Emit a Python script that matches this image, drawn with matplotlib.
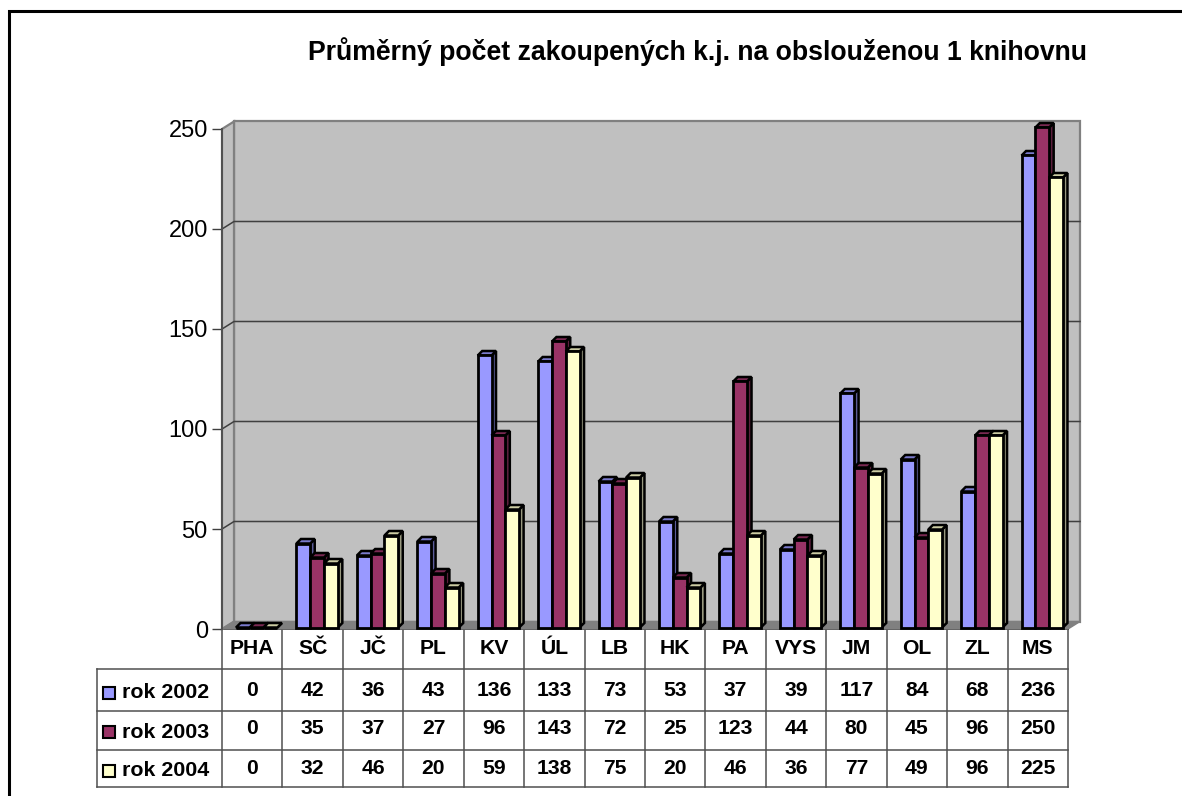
import matplotlib
matplotlib.use("Agg")
import matplotlib.pyplot as plt
from matplotlib.patches import Polygon, Rectangle

plt.rcParams['font.family'] = ['Liberation Sans', 'DejaVu Sans']

regions = ["PHA", "SČ", "JČ", "PL", "KV", "ÚL", "LB", "HK", "PA", "VYS", "JM", "OL", "ZL", "MS"]
rok_2002 = [0, 42, 36, 43, 136, 133, 73, 53, 37, 39, 117, 84, 68, 236]
rok_2003 = [0, 35, 37, 27, 96, 143, 72, 25, 123, 44, 80, 45, 96, 250]
rok_2004 = [0, 32, 46, 20, 59, 138, 75, 20, 46, 36, 77, 49, 96, 225]
series_names = ["rok 2002", "rok 2003", "rok 2004"]
y_ticks = [0, 50, 100, 150, 200, 250]
title = "Průměrný počet zakoupených k.j. na obslouženou 1 knihovnu"

W, H = 1182, 796
L, R, TOP, BOT = 222, 1068, 129, 629
colors = ["#9999FF", "#993366", "#FFFFCC"]
sides = ["#5C5C99", "#5C1F3D", "#999980"]
tops = ["#7A7ACC", "#7A2952", "#CCCCA3"]
series = [rok_2002, rok_2003, rok_2004]

fig = plt.figure(figsize=(W / 100, H / 100), dpi=100, facecolor="white")

# full figure overlay in pixel coords, for frame, title and table
over = fig.add_axes([0, 0, 1, 1])
over.set_xlim(0, W)
over.set_ylim(H, 0)
over.axis("off")

ax = fig.add_axes([L / W, 1 - BOT / H, (R - L) / W, (BOT - TOP) / H])
ax.set_xlim(0, 14)
ax.set_ylim(0, 250)
ax.patch.set_visible(False)

px_x = 14 / (R - L)
px_y = 250 / (BOT - TOP)
wall_dx, wall_dy = 12 * px_x, 7.5 * px_y
bar_dx, bar_dy = 4.5 * px_x, 4.5 * px_y
bar_w = 13.8 * px_x
base = 0.75
first = 14 * px_x

# walls and floor
ax.add_patch(Polygon([(wall_dx, wall_dy), (14 + wall_dx, wall_dy), (14 + wall_dx, 250 + wall_dy), (wall_dx, 250 + wall_dy)],
                     fc="#C0C0C0", ec="#808080", lw=1.6, clip_on=False, zorder=1))
ax.add_patch(Polygon([(0, 0), (wall_dx, wall_dy), (wall_dx, 250 + wall_dy), (0, 250)],
                     fc="#C0C0C0", ec="#808080", lw=1.6, clip_on=False, zorder=1))
ax.add_patch(Polygon([(0, 0), (14, 0), (14 + wall_dx, wall_dy), (wall_dx, wall_dy)],
                     fc="#808080", ec="#808080", lw=1, clip_on=False, zorder=1))
for t in y_ticks[1:-1]:
    ax.plot([0, wall_dx, 14 + wall_dx], [t, t + wall_dy, t + wall_dy], color="#404040", lw=1.1,
            clip_on=False, zorder=2)

# bars with their depth faces
for s, vals in enumerate(series):
    xs = [i + first + s * bar_w for i in range(len(vals))]
    for x, v in zip(xs, vals):
        top = v + base
        ax.add_patch(Polygon([(x + bar_w, base), (x + bar_w + bar_dx, base + bar_dy),
                              (x + bar_w + bar_dx, top + bar_dy), (x + bar_w, top)],
                             fc=sides[s], ec="black", lw=1.8, clip_on=False, zorder=3 + s))
        ax.add_patch(Polygon([(x, top), (x + bar_dx, top + bar_dy),
                              (x + bar_w + bar_dx, top + bar_dy), (x + bar_w, top)],
                             fc=tops[s], ec="black", lw=1.8, clip_on=False, zorder=3 + s))
    ax.bar(xs, vals, bottom=base, width=bar_w, align="edge", color=colors[s],
           edgecolor="black", lw=2.0, clip_on=False, zorder=3 + s)

ax.set_yticks(y_ticks)
ax.set_xticks([])
ax.tick_params(axis="y", length=7.2, width=1, color="#404040", labelsize=17, pad=3)
for name in ["top", "right", "bottom"]:
    ax.spines[name].set_visible(False)
ax.spines["left"].set_color("#505050")
ax.spines["left"].set_linewidth(1.4)
ax.spines["left"].set_zorder(2)

# outer frame, only left and top, both run off the page
over.plot([8.5, 8.5, W], [H, 10.5, 10.5], color="black", lw=2.2, clip_on=False, solid_joinstyle="miter")

over.text(697, 52, title, ha="center", va="center", fontsize=19.2, fontweight="bold")

# data table under the axis
col_w = (R - L) / 14
row_y = [BOT, 669, 711, 750, 787]
line_c = "#505050"
for i in range(15):
    x = L + i * col_w
    over.plot([x, x], [row_y[0], row_y[-1]], color=line_c, lw=1.1)
over.plot([97, 97], [row_y[1], row_y[-1]], color=line_c, lw=1.1)
over.plot([L, R], [row_y[0], row_y[0]], color="black", lw=1.2)
for y in row_y[1:]:
    over.plot([97, R], [y, y], color=line_c, lw=1.1)

for i, name in enumerate(regions):
    over.text(L + (i + 0.5) * col_w, 648, name, ha="center", va="center", fontsize=15.2, fontweight="bold")
row_mid = [690, 729, 768]
for s, vals in enumerate(series):
    for i, v in enumerate(vals):
        over.text(L + (i + 0.5) * col_w, row_mid[s], str(v), ha="center", va="center",
                  fontsize=15.2, fontweight="bold")
    over.add_patch(Rectangle((103, row_mid[s] - 3), 12, 12, fc=colors[s], ec="black", lw=1.5))
    over.text(122, row_mid[s] + 3, series_names[s], ha="left", va="center", fontsize=15.4, fontweight="bold")

fig.savefig("out.png", dpi=100)
